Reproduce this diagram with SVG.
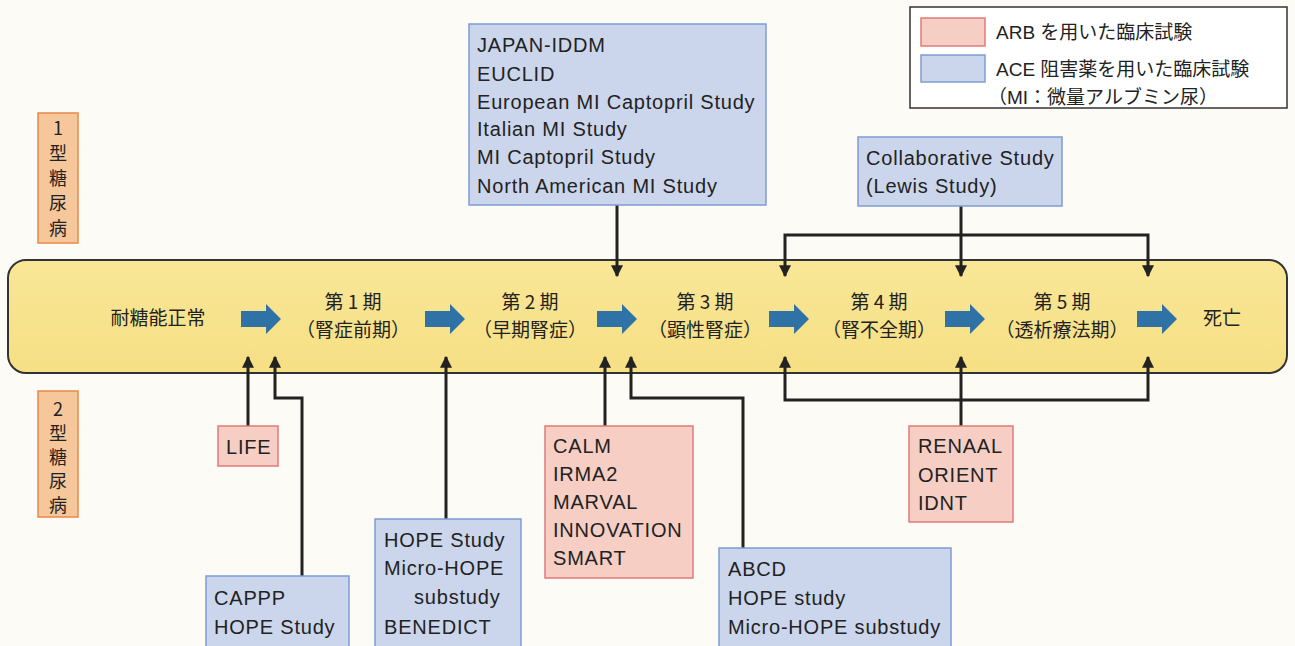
<svg xmlns="http://www.w3.org/2000/svg" width="1295" height="646" viewBox="0 0 1295 646">
<defs>
<style>
text{font-family:"Liberation Sans","Noto Sans CJK JP",sans-serif;fill:#222;}
.t{font-size:20px;letter-spacing:0.8px;}
.st{font-size:19px;text-anchor:middle;font-family:"Noto Sans CJK JP","Liberation Sans",sans-serif;}
.lg{font-size:19px;font-family:"Liberation Sans","Noto Sans CJK JP",sans-serif;}
.blue{fill:#cbd6ec;stroke:#7f9cd3;stroke-width:1.5;}
.pink{fill:#f6cec4;stroke:#e07b7b;stroke-width:1.5;}
.tag{fill:#f6c79b;stroke:#e8894a;stroke-width:1.5;}
.ln{fill:none;stroke:#222;stroke-width:3;}
.bar{fill:#2e72a6;}
.vt{font-size:18px;font-family:"Noto Sans CJK JP",sans-serif;writing-mode:vertical-rl;text-orientation:upright;}
</style>
<linearGradient id="band" x1="0" y1="0" x2="0" y2="1">
<stop offset="0" stop-color="#f9e797"/>
<stop offset="1" stop-color="#f6df84"/>
</linearGradient>
<marker id="ah" viewBox="0 0 10 10" refX="9" refY="5" markerWidth="4" markerHeight="4" orient="auto-start-reverse" markerUnits="strokeWidth">
<path d="M0,0 L10,5 L0,10 z" fill="#222"/>
</marker>
<path id="barrow" d="M0,-8 H25 V-15 L40,0 L25,15 V8 H0 z"/>
</defs>
<rect width="1295" height="646" fill="#fcfbf5"/>

<g id="band-group">
<rect x="8" y="260" width="1279" height="113" rx="18" ry="18" fill="url(#band)" stroke="#333" stroke-width="2"/>
</g>

<g id="stages">
<text class="st" x="158" y="325">耐糖能正常</text>
<text class="st" x="353" y="309">第 1 期</text>
<text class="st" x="353" y="337">（腎症前期）</text>
<text class="st" x="530" y="309">第 2 期</text>
<text class="st" x="530" y="337">（早期腎症）</text>
<text class="st" x="705" y="309">第 3 期</text>
<text class="st" x="705" y="337">（顕性腎症）</text>
<text class="st" x="879" y="309">第 4 期</text>
<text class="st" x="879" y="337">（腎不全期）</text>
<text class="st" x="1062" y="309">第 5 期</text>
<text class="st" x="1062" y="337">（透析療法期）</text>
<text class="st" x="1222" y="325">死亡</text>
</g>

<g id="flow-arrows">
<use href="#barrow" class="bar" x="241" y="319"/>
<use href="#barrow" class="bar" x="425" y="319"/>
<use href="#barrow" class="bar" x="597" y="319"/>
<use href="#barrow" class="bar" x="769" y="319"/>
<use href="#barrow" class="bar" x="945" y="319"/>
<use href="#barrow" class="bar" x="1137" y="319"/>
</g>

<g id="connectors">
<path class="ln" d="M617,205 V276" marker-end="url(#ah)"/>
<path class="ln" d="M961,206 V276" marker-end="url(#ah)"/>
<path class="ln" d="M785,276 V235 H1148 V276" marker-end="url(#ah)" marker-start="url(#ah)"/>
<path class="ln" d="M248,426 V357" marker-end="url(#ah)"/>
<path class="ln" d="M302,576 V398 H275 V357" marker-end="url(#ah)"/>
<path class="ln" d="M446,519 V357" marker-end="url(#ah)"/>
<path class="ln" d="M605,426 V357" marker-end="url(#ah)"/>
<path class="ln" d="M743,548 V398 H631 V357" marker-end="url(#ah)"/>
<path class="ln" d="M961,426 V357" marker-end="url(#ah)"/>
<path class="ln" d="M785,357 V400 H1148 V357" marker-end="url(#ah)" marker-start="url(#ah)"/>
</g>

<g id="type1">
<rect class="tag" x="38" y="113" width="40" height="130"/>
<text class="vt" x="58" y="119" letter-spacing="7">1型糖尿病</text>
</g>
<g id="type2">
<rect class="tag" x="38" y="391" width="40" height="126"/>
<text class="vt" x="58" y="400" letter-spacing="6">2型糖尿病</text>
</g>

<g id="legend">
<rect x="910" y="7" width="377" height="101" fill="#ffffff" stroke="#333" stroke-width="1.5"/>
<rect class="pink" x="921" y="18" width="64" height="28"/>
<rect class="blue" x="921" y="55" width="64" height="27"/>
<text class="lg" x="996" y="39">ARB を用いた臨床試験</text>
<text class="lg" x="996" y="76">ACE 阻害薬を用いた臨床試験</text>
<text class="lg" x="988" y="104">（MI：微量アルブミン尿）</text>
</g>

<g id="type1-trials">
<rect class="blue" x="469" y="24" width="297" height="181"/>
<text class="t" x="477" y="52">JAPAN-IDDM</text>
<text class="t" x="477" y="81">EUCLID</text>
<text class="t" x="477" y="109">European MI Captopril Study</text>
<text class="t" x="477" y="136">Italian MI Study</text>
<text class="t" x="477" y="164">MI Captopril Study</text>
<text class="t" x="477" y="193">North American MI Study</text>
</g>

<g id="collaborative">
<rect class="blue" x="858" y="137" width="204" height="69"/>
<text class="t" x="866" y="165">Collaborative Study</text>
<text class="t" x="866" y="193">(Lewis Study)</text>
</g>

<g id="life">
<rect class="pink" x="218" y="426" width="60" height="40"/>
<text class="t" x="226" y="454">LIFE</text>
</g>

<g id="cappp">
<rect class="blue" x="206" y="576" width="143" height="72"/>
<text class="t" x="214" y="605">CAPPP</text>
<text class="t" x="214" y="634">HOPE Study</text>
</g>

<g id="hope">
<rect class="blue" x="375" y="519" width="146" height="129"/>
<text class="t" x="384" y="547">HOPE Study</text>
<text class="t" x="384" y="575">Micro-HOPE</text>
<text class="t" x="414" y="604">substudy</text>
<text class="t" x="384" y="634">BENEDICT</text>
</g>

<g id="calm">
<rect class="pink" x="545" y="426" width="148" height="152"/>
<text class="t" x="553" y="453">CALM</text>
<text class="t" x="553" y="481">IRMA2</text>
<text class="t" x="553" y="509">MARVAL</text>
<text class="t" x="553" y="537">INNOVATION</text>
<text class="t" x="553" y="565">SMART</text>
</g>

<g id="abcd">
<rect class="blue" x="719" y="548" width="232" height="100"/>
<text class="t" x="728" y="576">ABCD</text>
<text class="t" x="728" y="605">HOPE study</text>
<text class="t" x="728" y="634">Micro-HOPE substudy</text>
</g>

<g id="renaal">
<rect class="pink" x="909" y="426" width="104" height="96"/>
<text class="t" x="918" y="453">RENAAL</text>
<text class="t" x="918" y="482">ORIENT</text>
<text class="t" x="918" y="510">IDNT</text>
</g>
</svg>
